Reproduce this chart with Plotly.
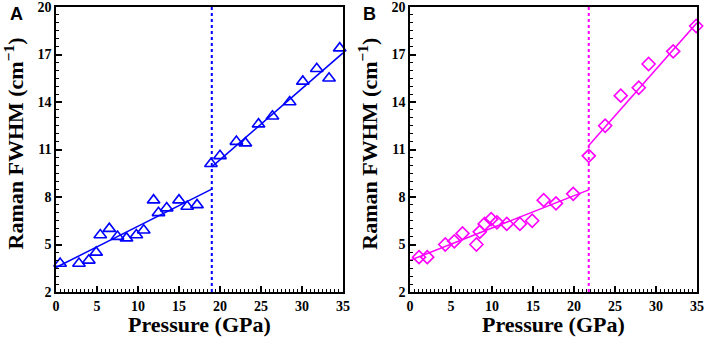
import plotly.graph_objects as go
from plotly.subplots import make_subplots

# Panel A data (blue triangles)
a_p = [0.5, 2.8, 4.0, 4.9, 5.4, 6.5, 7.5, 8.6, 9.8, 10.7, 11.9, 12.5, 13.5, 15.0, 16.0, 17.2,
       18.9, 20.0, 22.0, 23.1, 24.7, 26.4, 28.5, 30.1, 31.8, 33.3, 34.6]
a_w = [3.8, 3.8, 4.0, 4.5, 5.6, 6.0, 5.5, 5.4, 5.6, 5.9, 7.8, 7.0, 7.3, 7.8, 7.4, 7.5,
       10.1, 10.6, 11.5, 11.4, 12.6, 13.1, 14.0, 15.3, 16.1, 15.5, 17.4]
a_fit1_x = [0, 19]
a_fit1_y = [3.55, 8.5]
a_fit2_x = [19, 35]
a_fit2_y = [9.9, 17.1]
a_trans = 19

# Panel B data (magenta diamonds)
b_p = [1.1, 2.1, 4.3, 5.4, 6.4, 8.1, 8.5, 9.1, 9.9, 10.6, 11.8, 13.4, 14.9, 16.3, 17.8, 19.9,
       21.8, 23.8, 25.7, 27.9, 29.1, 32.1, 34.9]
b_w = [4.2, 4.2, 5.0, 5.2, 5.7, 5.0, 5.8, 6.3, 6.6, 6.4, 6.3, 6.3, 6.5, 7.8, 7.6, 8.2,
       10.6, 12.5, 14.4, 14.9, 16.4, 17.2, 18.8]
b_fit1_x = [0, 21.8]
b_fit1_y = [4.0, 8.45]
b_fit2_x = [21.8, 35]
b_fit2_y = [11.25, 19.0]
b_trans = 21.8

x_ticks = [0, 5, 10, 15, 20, 25, 30, 35]
y_ticks = [2, 5, 8, 11, 14, 17, 20]
x_title = "Pressure (GPa)"
y_title = "Raman FWHM (cm<sup>−1</sup>)"
panel_labels = ["A", "B"]

BLUE = "#0000ff"
MAG = "#ff00ff"
SERIF = "Liberation Serif"

fig = make_subplots(rows=1, cols=2, horizontal_spacing=0.1046)

def add_panel(col, px, w, f1x, f1y, f2x, f2y, trans, color, symbol, msize):
    fig.add_trace(go.Scatter(x=f1x, y=f1y, mode="lines", line=dict(color=color, width=1.5),
                             showlegend=False, hoverinfo="skip"), row=1, col=col)
    fig.add_trace(go.Scatter(x=f2x, y=f2y, mode="lines", line=dict(color=color, width=1.5),
                             showlegend=False, hoverinfo="skip"), row=1, col=col)
    fig.add_trace(go.Scatter(x=px, y=w, mode="markers", cliponaxis=False,
                             marker=dict(symbol=symbol, size=msize, color=color,
                                         line=dict(color=color, width=1.6)),
                             showlegend=False), row=1, col=col)
    fig.add_vline(x=trans, line=dict(color=color, width=2, dash="dot"), row=1, col=col)

add_panel(1, a_p, a_w, a_fit1_x, a_fit1_y, a_fit2_x, a_fit2_y, a_trans, BLUE, "triangle-up-open", 11)
add_panel(2, b_p, b_w, b_fit1_x, b_fit1_y, b_fit2_x, b_fit2_y, b_trans, MAG, "diamond-open", 10)

tickfont = dict(family=SERIF, size=14, color="black", weight="bold")
titlefont = dict(family=SERIF, size=22, color="black", weight="bold")

for col in (1, 2):
    fig.update_xaxes(range=[0, 35], tickvals=x_ticks, ticktext=[str(t) for t in x_ticks],
                     ticks="inside", ticklen=6, tickwidth=1.5, tickcolor="black",
                     minor=dict(dtick=0.5, ticks="inside", ticklen=3, tickwidth=1, tickcolor="black"),
                     showline=True, linecolor="black", linewidth=1.5, mirror=True,
                     showgrid=False, zeroline=False, tickfont=tickfont, automargin=False,
                     ticklabeloverflow="allow", row=1, col=col)
    fig.update_yaxes(range=[2, 20], tickvals=y_ticks, ticktext=[str(t) for t in y_ticks],
                     ticks="inside", ticklen=6, tickwidth=1.5, tickcolor="black",
                     minor=dict(dtick=0.5, ticks="inside", ticklen=3, tickwidth=1, tickcolor="black"),
                     showline=True, linecolor="black", linewidth=1.5, mirror=True,
                     showgrid=False, zeroline=False, tickfont=tickfont, automargin=False,
                     ticklabeloverflow="allow", row=1, col=col)

doms = [[0, 0.4477], [0.5523, 1]]
fig.update_xaxes(domain=doms[0], row=1, col=1)
fig.update_xaxes(domain=doms[1], row=1, col=2)

ytitle_x = [-0.066, 0.4865]
label_x = [-0.0624, 0.4883]
for i in range(2):
    fig.add_annotation(text=x_title, xref="paper", yref="paper", x=sum(doms[i]) / 2, y=-0.115,
                       xanchor="center", yanchor="middle", showarrow=False, font=titlefont)
    fig.add_annotation(text=y_title, xref="paper", yref="paper", x=ytitle_x[i], y=0.52,
                       xanchor="center", yanchor="middle", textangle=-90, showarrow=False,
                       font=titlefont)
    fig.add_annotation(text=panel_labels[i], xref="paper", yref="paper", x=label_x[i], y=0.975,
                       xanchor="center", yanchor="middle", showarrow=False,
                       font=dict(family="Liberation Sans", size=18, color="black", weight="bold"))

fig.update_layout(width=706, height=339, margin=dict(l=56, r=9, t=7, b=47),
                  plot_bgcolor="white", paper_bgcolor="white")

fig.write_html("out.html", config={"displayModeBar": False},
               post_script="document.body.style.margin='0';document.body.style.overflow='hidden';")
